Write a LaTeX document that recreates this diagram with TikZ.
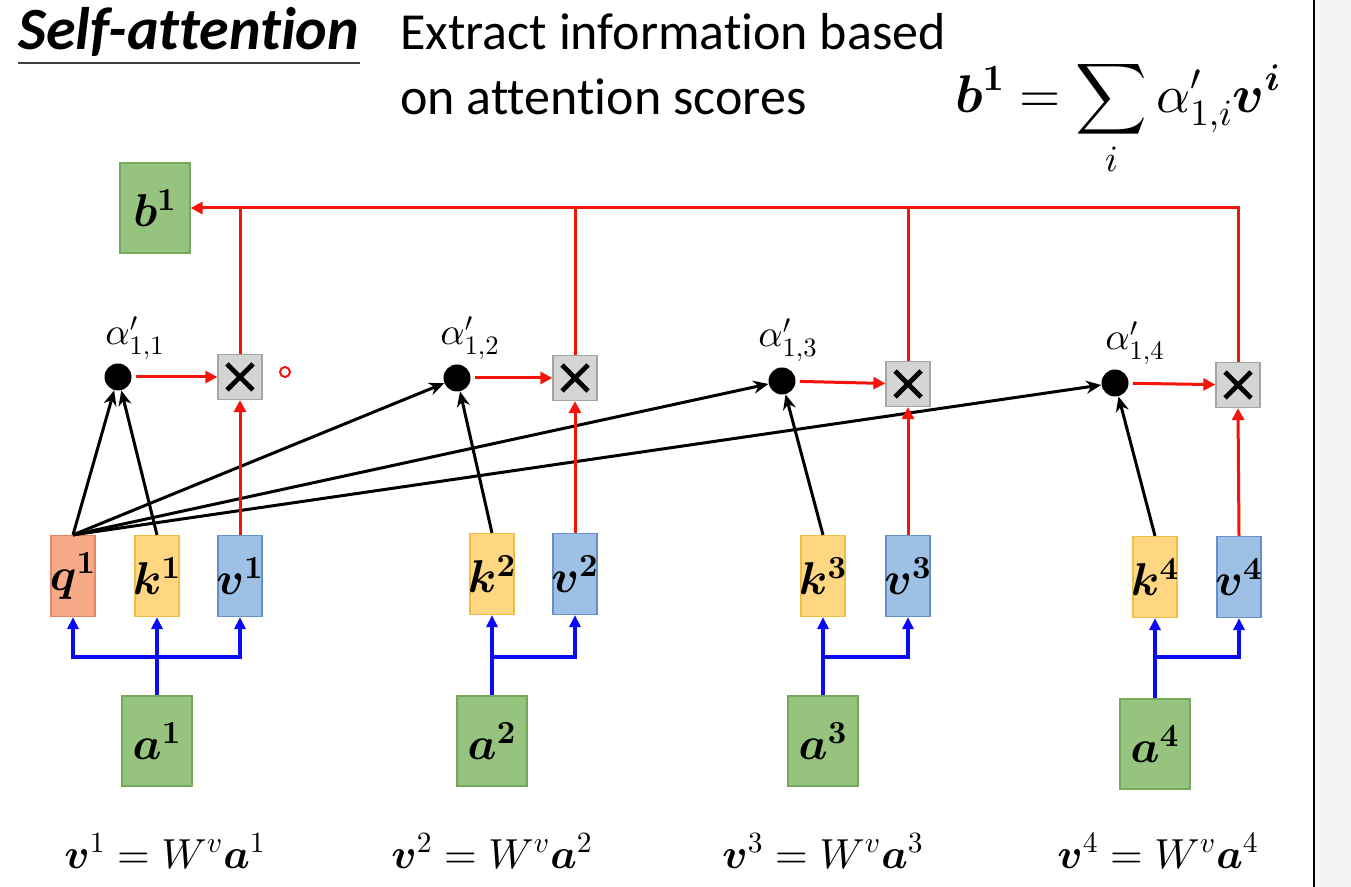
\documentclass[tikz,border=0pt]{standalone}
\usepackage[no-math]{fontspec}
\setmainfont[Ligatures=NoCommon]{Carlito}
\usepackage{amsmath,bm}
\DeclareFontFamily{OML}{cmm}{\skewchar\font'177}
\DeclareFontShape{OML}{cmm}{m}{it}{<->cmmi10}{}
\DeclareFontShape{OML}{cmm}{b}{it}{<->cmmib10}{}
\DeclareFontFamily{OMS}{cmsy}{\skewchar\font'60}
\DeclareFontShape{OMS}{cmsy}{m}{n}{<->cmsy10}{}
\DeclareFontShape{OMS}{cmsy}{b}{n}{<->cmbsy10}{}
\DeclareFontFamily{OT1}{cmr}{\hyphenchar\font45}
\DeclareFontShape{OT1}{cmr}{m}{n}{<->cmr10}{}
\DeclareFontShape{OT1}{cmr}{bx}{n}{<->cmbx10}{}
\usetikzlibrary{arrows.meta,calc}
\definecolor{gfill}{RGB}{150,196,126}
\definecolor{gdraw}{RGB}{118,168,92}
\definecolor{qfill}{RGB}{246,170,136}
\definecolor{qdraw}{RGB}{230,135,100}
\definecolor{kfill}{RGB}{255,214,130}
\definecolor{kdraw}{RGB}{240,190,70}
\definecolor{vfill}{RGB}{158,192,228}
\definecolor{vdraw}{RGB}{100,145,200}
\definecolor{xfill}{RGB}{212,212,212}
\definecolor{xdraw}{RGB}{165,165,165}
\definecolor{redline}{RGB}{245,20,10}
\definecolor{blueline}{RGB}{10,10,245}
\definecolor{panel}{RGB}{244,244,246}
\newcommand{\boxlbl}[1]{\makebox[0pt][c]{$#1$}}
\tikzset{
  box/.style={draw, line width=0.6pt, inner sep=0pt},
  gbox/.style={box, fill=gfill, draw=gdraw, minimum width=35pt, minimum height=45pt, font=\fontsize{23}{26}\selectfont},
  qbox/.style={box, fill=qfill, draw=qdraw, minimum width=22pt, minimum height=40.5pt, font=\fontsize{23}{26}\selectfont},
  kbox/.style={box, fill=kfill, draw=kdraw, minimum width=22pt, minimum height=40.5pt, font=\fontsize{23}{26}\selectfont},
  vbox/.style={box, fill=vfill, draw=vdraw, minimum width=22pt, minimum height=40.5pt, font=\fontsize{23}{26}\selectfont},
  mult/.style={box, fill=xfill, draw=xdraw, minimum width=22pt, minimum height=22.5pt,
    path picture={\draw[draw=black, line width=2.4pt] ($(path picture bounding box.center)+(-6.5pt,-6.5pt)$) -- ($(path picture bounding box.center)+(6.5pt,6.5pt)$);
                  \draw[draw=black, line width=2.4pt] ($(path picture bounding box.center)+(-6.5pt,6.5pt)$) -- ($(path picture bounding box.center)+(6.5pt,-6.5pt)$);}},
  dotnode/.style={circle, fill=black, minimum size=13.5pt, inner sep=0pt},
  alab/.style={font=\fontsize{19}{22}\selectfont, inner sep=0pt},
  eqlab/.style={anchor=base, inner sep=0pt, font=\fontsize{21}{24}\selectfont},
  redarr/.style={draw=redline, line width=1.5pt, -{Triangle[length=6pt,width=6pt]}},
  redln/.style={draw=redline, line width=1.5pt},
  bluearr/.style={draw=blueline, line width=1.8pt, -{Triangle[length=6pt,width=5.5pt]}},
  blueln/.style={draw=blueline, line width=1.8pt},
  blkarr/.style={draw=black, line width=1.5pt, -{Stealth[length=7.5pt,width=6.5pt]}},
}
\begin{document}
\begin{tikzpicture}[x=0.5pt,y=-0.5pt]
\useasboundingbox (0,0) rectangle (1351,887);
\fill[white] (0,0) rectangle (1351,887);
% side panel
\fill[panel] (1315,0) rectangle (1351,887);
\draw[line width=0.6pt] (1314,0) -- (1314,887);

% header
\node[anchor=base west, inner sep=0pt, font=\fontsize{30}{33}\selectfont\bfseries\itshape] (title) at (18,50) {Self-attention};
\draw[line width=1pt, black!75] ($(title.base west)+(0,13)$) -- ($(title.base east)+(0,13)$);
\node[anchor=base west, inner sep=0pt, font=\fontsize{26}{30}\selectfont] (ex1) at (400,50) {Extract information based};
\node[anchor=base west, inner sep=0pt, font=\fontsize{26}{30}\selectfont] (ex2) at (400,115) {on attention scores};
\node[inner sep=0pt, font=\fontsize{26.5}{31}\selectfont] (eq) at (1118,118) {$\displaystyle \bm{b}^{\mathbf{1}} = \sum_{i} \alpha'_{1,i}\bm{v}^{\bm{i}}$};

% output
\node[gbox] (b1) at (155,208) {\boxlbl{\bm{b}^{\mathbf{1}}}};

% group 1
\node[qbox] (q1) at (73,576) {\boxlbl{\bm{q}^{\mathbf{1}}}};
\node[kbox] (k1) at (157,576) {\boxlbl{\bm{k}^{\mathbf{1}}}};
\node[vbox] (v1) at (240,576) {\boxlbl{\bm{v}^{\mathbf{1}}}};
\node[gbox] (a1) at (157,741) {\boxlbl{\bm{a}^{\mathbf{1}}}};
\node[dotnode] (d1) at (118,377) {};
\node[mult] (x1) at (240,377) {};
\node[alab] (l1) at (135,338) {$\alpha'_{1,1}$};
% group 2
\node[kbox] (k2) at (492,574) {\boxlbl{\bm{k}^{\mathbf{2}}}};
\node[vbox] (v2) at (575,574) {\boxlbl{\bm{v}^{\mathbf{2}}}};
\node[gbox] (a2) at (492,741) {\boxlbl{\bm{a}^{\mathbf{2}}}};
\node[dotnode] (d2) at (457,378) {};
\node[mult] (x2) at (575,378) {};
\node[alab] (l2) at (470,338) {$\alpha'_{1,2}$};
% group 3
\node[kbox] (k3) at (823,576) {\boxlbl{\bm{k}^{\mathbf{3}}}};
\node[vbox] (v3) at (908,576) {\boxlbl{\bm{v}^{\mathbf{3}}}};
\node[gbox] (a3) at (823,741) {\boxlbl{\bm{a}^{\mathbf{3}}}};
\node[dotnode] (d3) at (782,381) {};
\node[mult] (x3) at (908,384) {};
\node[alab] (l3) at (788,340) {$\alpha'_{1,3}$};
% group 4
\node[kbox] (k4) at (1155,577) {\boxlbl{\bm{k}^{\mathbf{4}}}};
\node[vbox] (v4) at (1239,577) {\boxlbl{\bm{v}^{\mathbf{4}}}};
\node[gbox] (a4) at (1155,744) {\boxlbl{\bm{a}^{\mathbf{4}}}};
\node[dotnode] (d4) at (1115,383) {};
\node[mult] (x4) at (1238,385) {};
\node[alab] (l4) at (1135,343) {$\alpha'_{1,4}$};

% cursor mark
\draw[redline, line width=1pt] (285,372) circle (2.5pt);

% blue input connections
\coordinate (j1) at (157,657);
\coordinate (j2) at (492,657);
\coordinate (j3) at (823,657);
\coordinate (j4) at (1155,657);
\draw[blueln] (a1.north) -- (j1);
\draw[bluearr] (j1) -| (q1.south);
\draw[bluearr] (j1) -- (k1.south);
\draw[bluearr] (j1) -| (v1.south);
\draw[blueln] (a2.north) -- (j2);
\draw[bluearr] (j2) -- (k2.south);
\draw[bluearr] (j2) -| (v2.south);
\draw[blueln] (a3.north) -- (j3);
\draw[bluearr] (j3) -- (k3.south);
\draw[bluearr] (j3) -| (v3.south);
\draw[blueln] (a4.north) -- (j4);
\draw[bluearr] (j4) -- (k4.south);
\draw[bluearr] (j4) -| (v4.south);

% black attention arrows
\draw[blkarr] (q1.north) -- (d1);
\draw[blkarr] (k1.north) -- (d1);
\draw[blkarr] (q1.north) -- (d2);
\draw[blkarr] (k2.north) -- (d2);
\draw[blkarr] (q1.north) -- (d3);
\draw[blkarr] (k3.north) -- (d3);
\draw[blkarr] (q1.north) -- (d4);
\draw[blkarr] (k4.north) -- (d4);

% red weighting
\draw[redarr, shorten <=2pt] (d1) -- (x1);
\draw[redarr, shorten <=2pt] (d2) -- (x2);
\draw[redarr, shorten <=2pt] (d3) -- (x3);
\draw[redarr, shorten <=2pt] (d4) -- (x4);
\draw[redarr] (v1.north) -- (x1.south);
\draw[redarr] (v2.north) -- (x2.south);
\draw[redarr] (v3.north) -- (x3.south);
\draw[redarr] (v4.north) -- (x4.south);
\draw[redarr] (x4.north) |- (b1.east);
\draw[redln] (x1.north) -- (x1.north |- b1.east);
\draw[redln] (x2.north) -- (x2.north |- b1.east);
\draw[redln] (x3.north) -- (x3.north |- b1.east);

% value equations
\node[eqlab] (e1) at (165,868) {$\bm{v}^{1} = W^{v}\bm{a}^{1}$};
\node[eqlab] (e2) at (492,868) {$\bm{v}^{2} = W^{v}\bm{a}^{2}$};
\node[eqlab] (e3) at (823,868) {$\bm{v}^{3} = W^{v}\bm{a}^{3}$};
\node[eqlab] (e4) at (1158,868) {$\bm{v}^{4} = W^{v}\bm{a}^{4}$};
\end{tikzpicture}
\end{document}
